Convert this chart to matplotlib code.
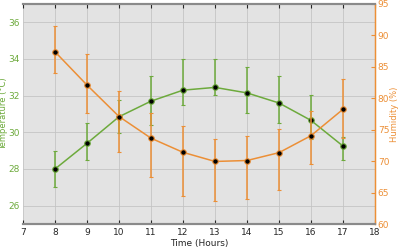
import numpy as np
import matplotlib
matplotlib.use('Agg')
import matplotlib.pyplot as plt

hours = [8, 9, 10, 11, 12, 13, 14, 15, 16, 17]
temp = [28.0, 29.4, 30.85, 31.7, 32.3, 32.45, 32.15, 31.6, 30.65, 29.25]
temp_err_lo = [1.0, 0.9, 0.9, 1.3, 0.8, 0.4, 1.1, 1.1, 1.0, 0.75]
temp_err_hi = [1.0, 1.1, 0.9, 1.35, 1.7, 1.55, 1.4, 1.45, 1.4, 0.5]
humid = [87.4, 82.1, 77.1, 73.65, 71.4, 69.95, 70.1, 71.35, 74.05, 78.25]
humid_err_lo = [3.3, 4.5, 5.6, 6.1, 6.9, 6.3, 6.1, 6.0, 4.5, 4.6]
humid_err_hi = [4.15, 5.0, 4.0, 4.0, 4.2, 3.6, 3.9, 3.7, 4.0, 4.8]

green = '#6DAA3C'
orange = '#EC8F36'

fig = plt.figure(figsize=(4, 2.49), dpi=100)
ax = fig.add_axes([0.0575, 0.1004, 0.88, 0.8836])
ax.set_facecolor('#E3E3E3')
ax2 = ax.twinx()

ax.errorbar(hours, temp, yerr=[temp_err_lo, temp_err_hi], color=green, lw=1.1,
            elinewidth=1.1, capsize=1.5, marker='o', ms=4, mfc='black',
            mec=green, mew=0.8, zorder=3)
ax2.errorbar(hours, humid, yerr=[humid_err_lo, humid_err_hi], color=orange, lw=1.1,
             elinewidth=1.1, capsize=1.5, marker='o', ms=4, mfc='black',
             mec=orange, mew=0.8, zorder=3)

ax.set_xlim(7, 18)
ax.set_ylim(25, 37)
ax2.set_ylim(60, 95)
ax.set_xticks(range(7, 19))
ax.set_yticks([26, 28, 30, 32, 34, 36])
ax2.set_yticks(range(60, 96, 5))

ax.grid(True, color='#C4C4C4', lw=0.6)
ax.set_axisbelow(True)

fs = 6.5
ax.tick_params(axis='x', labelsize=fs, colors='#262626', direction='in',
               length=3, top=True, pad=3)
ax.tick_params(axis='y', labelsize=fs, colors=green, direction='in', length=0, pad=2.5)
ax2.tick_params(axis='y', labelsize=fs, colors=orange, direction='in', length=3, pad=2)
ax.set_xlabel('Time (Hours)', fontsize=fs, color='#262626', labelpad=1)
ax.set_ylabel('Temperature (°C)', fontsize=6, color=green)
ax2.set_ylabel('Humidity (%)', fontsize=6, color=orange)
ax.yaxis.set_label_coords(-0.043, 0.5)
ax2.yaxis.set_label_coords(1.043, 0.5)

for a in (ax, ax2):
    a.spines['left'].set_visible(False)
    a.spines['right'].set_color(orange)
    a.spines['top'].set_color('#8A8A8A')
    a.spines['bottom'].set_color('#8A8A8A')
    a.spines['top'].set_linewidth(1.5)
    a.spines['bottom'].set_linewidth(1.5)
ax2.spines['right'].set_linewidth(1.0)

fig.savefig('out.png', dpi=100)
